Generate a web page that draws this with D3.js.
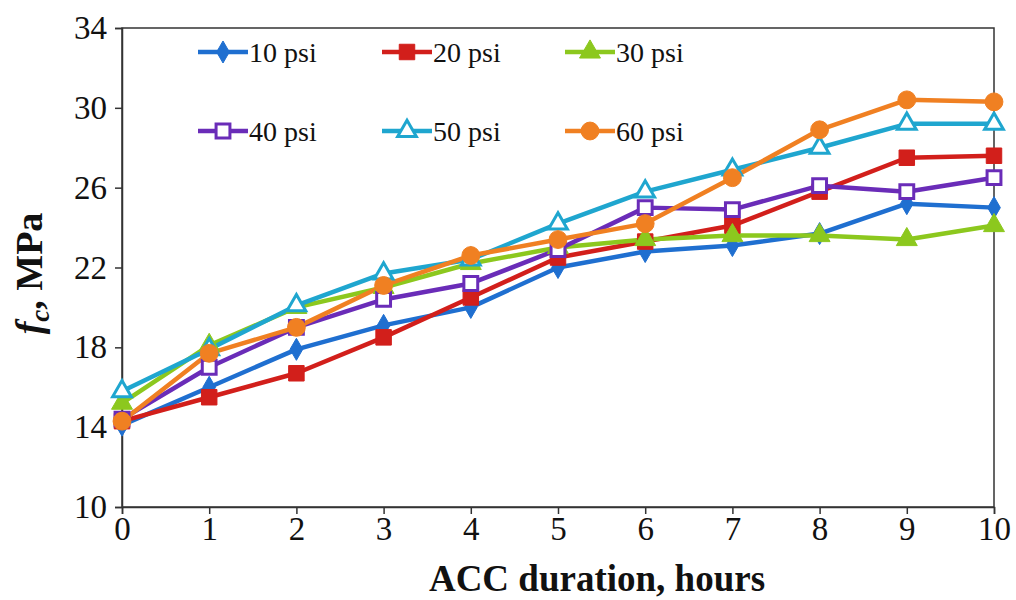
<!DOCTYPE html>
<html>
<head>
<meta charset="utf-8">
<script src="https://cdn.jsdelivr.net/npm/d3@7"></script>
<style>
  body { margin: 0; background: #fff; }
  svg text { font-family: "Liberation Serif", "Times New Roman", Times, serif; }
</style>
</head>
<body>
<div class="graph"></div>
<script>
const hours = [0, 1, 2, 3, 4, 5, 6, 7, 8, 9, 10];
const yTicks = [10, 14, 18, 22, 26, 30, 34];

const psi10 = [14.1, 16.0, 17.9, 19.1, 20.0, 22.0, 22.8, 23.1, 23.7, 25.2, 25.0];
const psi20 = [14.3, 15.5, 16.7, 18.5, 20.5, 22.5, 23.3, 24.1, 25.8, 27.5, 27.6];
const psi30 = [15.2, 18.1, 20.0, 21.0, 22.2, 23.0, 23.4, 23.6, 23.6, 23.4, 24.1];
const psi40 = [14.4, 17.0, 19.0, 20.4, 21.2, 22.9, 25.0, 24.9, 26.1, 25.8, 26.5];
const psi50 = [15.8, 17.9, 20.1, 21.7, 22.4, 24.2, 25.8, 26.9, 28.0, 29.2, 29.2];
const psi60 = [14.3, 17.7, 19.0, 21.1, 22.6, 23.4, 24.2, 26.5, 28.9, 30.4, 30.3];

const series = [
    { name: "10 psi", values: psi10, color: "#1f6fd0", marker: "diamond", fill: true },
    { name: "20 psi", values: psi20, color: "#d21f1b", marker: "square", fill: true },
    { name: "30 psi", values: psi30, color: "#8cc81e", marker: "triangle", fill: true },
    { name: "40 psi", values: psi40, color: "#6a2cb8", marker: "square", fill: false },
    { name: "50 psi", values: psi50, color: "#1fa6cf", marker: "triangle", fill: false },
    { name: "60 psi", values: psi60, color: "#f08022", marker: "circle", fill: true }
];

const outerWidth = 1016, outerHeight = 600;
const margin = { top: 28, right: 22, bottom: 93, left: 122 };
const width = outerWidth - margin.left - margin.right,
      height = outerHeight - margin.top - margin.bottom;

const svg = d3.select(".graph").append("svg")
    .attr("width", outerWidth)
    .attr("height", outerHeight)
    .append("g")
    .attr("transform", `translate(${margin.left},${margin.top})`);

const x = d3.scaleLinear().domain([0, 10]).range([0, width]);
const y = d3.scaleLinear().domain([10, 34]).range([height, 0]);

// frame
svg.append("rect")
    .attr("width", width).attr("height", height)
    .attr("fill", "none").attr("stroke", "#333").attr("stroke-width", 1.5);

const xAxis = svg.append("g")
    .attr("transform", `translate(0,${height})`)
    .call(d3.axisBottom(x).tickValues(hours).tickSize(7).tickPadding(3).tickFormat(d3.format("d")));
const yAxis = svg.append("g")
    .call(d3.axisLeft(y).tickValues(yTicks).tickSize(7).tickPadding(8));

[xAxis, yAxis].forEach(a => {
    a.attr("font-family", null);
    a.select(".domain").attr("stroke", "#333").attr("stroke-width", 1.5);
    a.selectAll(".tick line").attr("stroke", "#333").attr("stroke-width", 1.5);
    a.selectAll("text").attr("font-size", 33).attr("fill", "#111");
});

// markers
const symbolFor = { diamond: d3.symbolDiamond, square: d3.symbolSquare, triangle: d3.symbolTriangle, circle: d3.symbolCircle };
const sizeFor = { diamond: 140, square: 240, triangle: 190, circle: 250 };

function drawMarker(g, s) {
    g.append("path")
        .attr("d", d3.symbol().type(symbolFor[s.marker]).size(sizeFor[s.marker] * (s.fill ? 1 : 0.8))())
        .attr("fill", s.fill ? s.color : "#fff")
        .attr("stroke", s.color)
        .attr("stroke-width", s.fill ? 1 : 3);
}

const line = d3.line()
    .x((d, i) => x(hours[i]))
    .y(d => y(d));

series.forEach(s => {
    svg.append("path")
        .datum(s.values)
        .attr("d", line)
        .attr("fill", "none")
        .attr("stroke", s.color)
        .attr("stroke-width", 4.5)
        .attr("stroke-linejoin", "round");
});

series.forEach(s => {
    s.values.forEach((v, i) => {
        const g = svg.append("g").attr("transform", `translate(${x(hours[i])},${y(v)})`);
        drawMarker(g, s);
    });
});

// legend
const legendCols = [76, 260, 443];
const legendRows = [24, 103];
series.forEach((s, i) => {
    const lg = svg.append("g")
        .attr("transform", `translate(${legendCols[i % 3]},${legendRows[Math.floor(i / 3)]})`);
    lg.append("line")
        .attr("x1", 0).attr("x2", 50)
        .attr("stroke", s.color).attr("stroke-width", 4.5);
    drawMarker(lg.append("g").attr("transform", "translate(25,0)"), s);
    lg.append("text")
        .attr("x", 51).attr("y", 0)
        .attr("dy", "0.34em")
        .attr("font-size", 28)
        .attr("fill", "#111")
        .text(s.name);
});

// axis titles
svg.append("text")
    .attr("x", width / 2 + 39)
    .attr("y", height + 84)
    .attr("text-anchor", "middle")
    .attr("font-size", 37)
    .attr("font-weight", "bold")
    .attr("fill", "#111")
    .text("ACC duration, hours");

const yt = svg.append("text")
    .attr("transform", `translate(-80,${height / 2 + 6}) rotate(-90)`)
    .attr("text-anchor", "middle")
    .attr("font-size", 38)
    .attr("font-weight", "bold")
    .attr("fill", "#111");
yt.append("tspan").attr("font-style", "italic").text("f");
yt.append("tspan").attr("font-style", "italic").attr("font-size", 27).attr("dy", 7).text("c");
yt.append("tspan").attr("dy", -7).text(", MPa");
</script>
</body>
</html>
